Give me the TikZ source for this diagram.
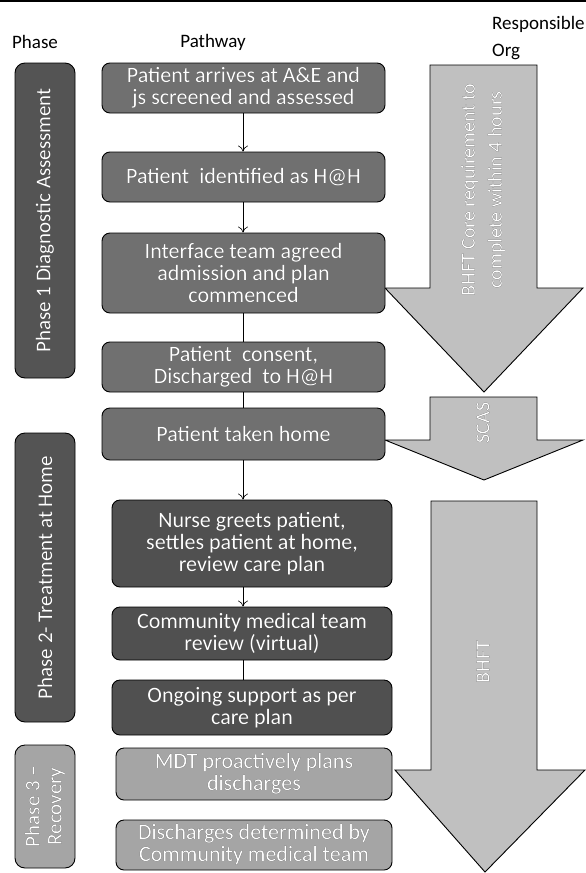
\documentclass[tikz,border=0pt]{standalone}
\usepackage{fontspec}
\setmainfont{Carlito}
\usepackage[outline]{contour}
\contourlength{0.45pt}
\newcommand{\ol}[1]{\contour{black}{#1}}
\usetikzlibrary{arrows.meta}
\definecolor{phdark}{RGB}{84,84,84}
\definecolor{boxmid}{RGB}{112,112,112}
\definecolor{boxdark}{RGB}{80,80,80}
\definecolor{boxlight}{RGB}{165,165,165}
\definecolor{arrowfill}{RGB}{192,192,192}
\tikzset{
  pbox/.style={draw=black, line width=0.9pt, rounded corners=8pt, text=white, align=center,
    font=\fontsize{22}{22}\selectfont, inner sep=0pt},
  phbox/.style={draw=black, line width=0.9pt, rounded corners=10pt, text=white, align=center,
    font=\fontsize{21}{22}\selectfont, inner sep=0pt, rotate=90},
  bigarrow/.style={draw=black, line width=0.9pt, fill=arrowfill},
  arrlabel/.style={text=white, align=center, font=\fontsize{20}{27}\selectfont, rotate=90, inner sep=0pt},
  hdr/.style={font=\fontsize{19}{27}\selectfont, inner sep=0pt},
  conn/.style={draw=black, line width=0.6pt},
  connarr/.style={conn, -{To[length=6pt,width=10pt]}},
}
\begin{document}
\begin{tikzpicture}[x=1pt,y=-1pt]
\useasboundingbox (0,0) rectangle (586,873);
\draw[line width=1.5pt] (0,1) -- (586,1);

% headers
\node[hdr] (hPhase) at (35,42) {Phase};
\node[hdr] (hPath) at (213,42) {Pathway};
\node[hdr, align=left, anchor=north west] (hOrg) at (492,16) {Responsible\\Org};

% big arrows (responsible org)
\draw[bigarrow] (430,65) -- (537,65) -- (537,288) -- (583,288) -- (484,392) -- (385,288) -- (430,288) -- cycle;
\draw[bigarrow] (430,397) -- (537,397) -- (537,440) -- (583,440) -- (484,480) -- (385,440) -- (430,440) -- cycle;
\draw[bigarrow] (431,501) -- (537,501) -- (537,770) -- (585,770) -- (485,872) -- (395,770) -- (431,770) -- cycle;
\node[arrlabel] (lA1) at (483,190) {\ol{BHFT Core requirement to}\\\ol{complete within 4 hours}};
\node[arrlabel] (lA2) at (483,423) {\ol{SCAS}};
\node[arrlabel] (lA3) at (483,662) {\ol{BHFT}};

% phase boxes
\node[phbox, fill=phdark, minimum width=315pt, minimum height=60pt] (ph1) at (45,220.5) {\ol{Phase 1 Diagnostic Assessment}};
\node[phbox, fill=phdark, minimum width=289pt, minimum height=60pt] (ph2) at (45,577.5) {\ol{Phase 2- Treatment at Home}};
\node[phbox, fill=boxlight, minimum width=123pt, minimum height=60pt] (ph3) at (45,806.5) {\ol{Phase 3 –}\\\ol{Recovery}};

% pathway boxes
\node[pbox, fill=boxmid, minimum width=283pt, minimum height=50pt] (b1) at (243.5,88) {\ol{Patient arrives at A\&E and}\\\ol{js screened and assessed}};
\node[pbox, fill=boxmid, minimum width=283pt, minimum height=50pt] (b2) at (243.5,177) {\ol{Patient\ \ identified as H@H}};
\node[pbox, fill=boxmid, minimum width=283pt, minimum height=80pt] (b3) at (243.5,273) {\ol{Interface team agreed}\\\ol{admission and plan}\\\ol{commenced}};
\node[pbox, fill=boxmid, minimum width=283pt, minimum height=50pt] (b4) at (243.5,367) {\ol{Patient\ \ consent,}\\\ol{Discharged\ \ to H@H}};
\node[pbox, fill=boxmid, minimum width=283pt, minimum height=52pt] (b5) at (243.5,434) {\ol{Patient taken home}};
\node[pbox, fill=boxdark, minimum width=280pt, minimum height=87pt] (b6) at (252,543.5) {\ol{Nurse greets patient,}\\\ol{settles patient at home,}\\\ol{review care plan}};
\node[pbox, fill=boxdark, minimum width=280pt, minimum height=53pt] (b7) at (252,633.5) {\ol{Community medical team}\\\ol{review (virtual)}};
\node[pbox, fill=boxdark, minimum width=280pt, minimum height=55pt] (b8) at (252,707.5) {\ol{Ongoing support as per}\\\ol{care plan}};
\node[pbox, fill=boxlight, minimum width=276pt, minimum height=52pt] (b9) at (254,774) {\ol{MDT proactively plans}\\\ol{discharges}};
\node[pbox, fill=boxlight, minimum width=276pt, minimum height=50pt] (b10) at (254,845) {\ol{Discharges determined by}\\\ol{Community medical team}};

% connectors
\coordinate (cx) at (243,0);
\draw[connarr] (b1.south -| cx) -- (b2.north -| cx);
\draw[connarr] (b2.south -| cx) -- (b3.north -| cx);
\draw[conn] (b3.south -| cx) -- (b4.north -| cx);
\draw[conn] (b4.south -| cx) -- (b5.north -| cx);
\draw[connarr] (b5.south -| cx) -- (b6.north -| cx);
\draw[connarr] (b6.south -| cx) -- (b7.north -| cx);
\draw[conn] (b7.south -| cx) -- (b8.north -| cx);
\end{tikzpicture}
\end{document}
